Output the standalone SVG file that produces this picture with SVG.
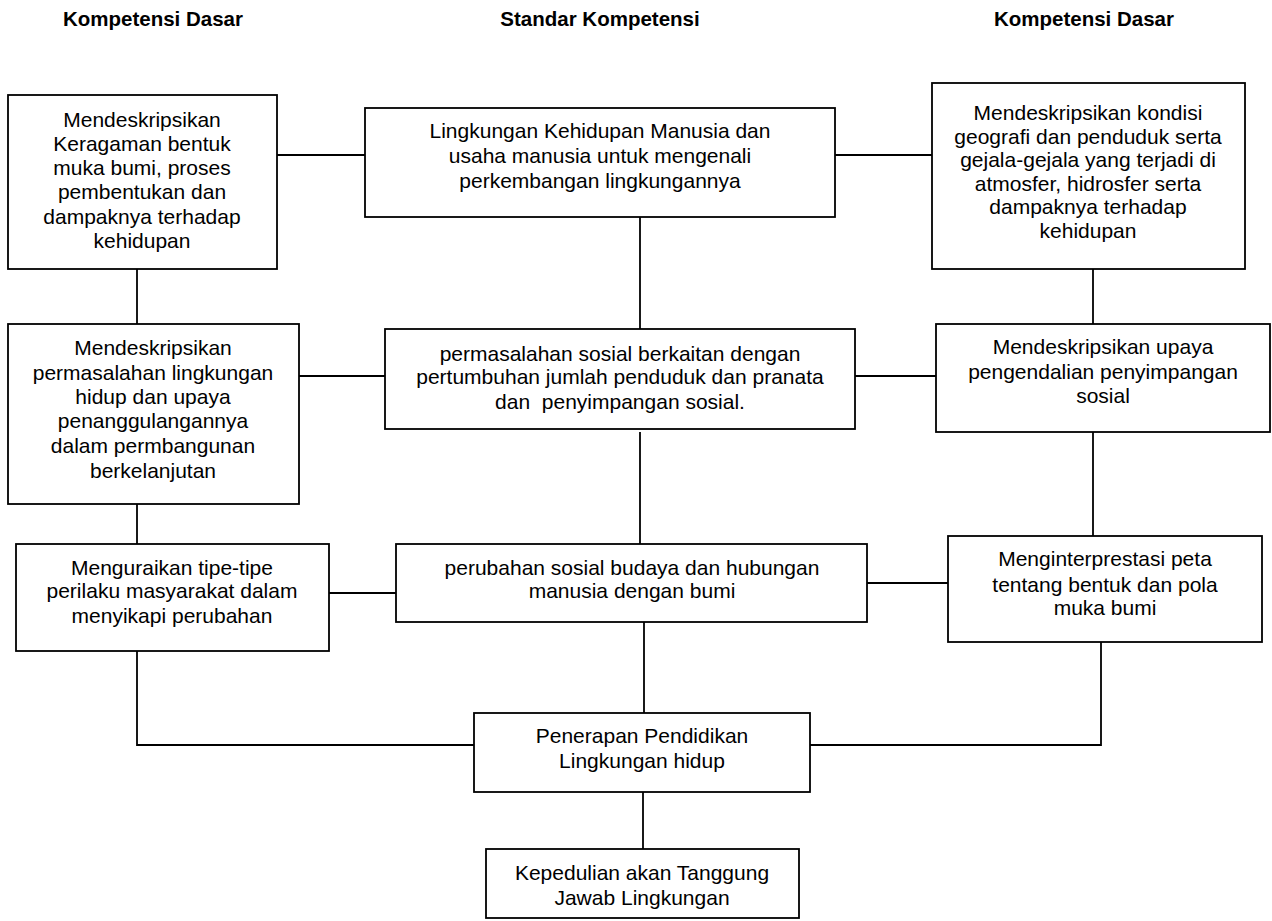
<svg xmlns="http://www.w3.org/2000/svg" width="1272" height="921" viewBox="0 0 1272 921">
<style>
.box{fill:#fff;stroke:#000;stroke-width:1.8}
.t{font-family:"Liberation Sans",Arial,sans-serif;font-size:21px;fill:#000;text-anchor:middle}
.h{font-family:"Liberation Sans",Arial,sans-serif;font-size:20.5px;font-weight:bold;fill:#000;text-anchor:middle}
.c{fill:none;stroke:#000;stroke-width:1.8}
</style>
<rect width="1272" height="921" fill="#fff"/>
<g id="headers">
<text class="h" x="153" y="26">Kompetensi Dasar</text>
<text class="h" x="600" y="26">Standar Kompetensi</text>
<text class="h" x="1084" y="26">Kompetensi Dasar</text>
</g>
<g id="connectors">
<path class="c" d="M277 155H365"/>
<path class="c" d="M835 155H932"/>
<path class="c" d="M137 269V324"/>
<path class="c" d="M640 217V329"/>
<path class="c" d="M1093 269V324"/>
<path class="c" d="M299 376H385"/>
<path class="c" d="M855 376H936"/>
<path class="c" d="M137 504V544"/>
<path class="c" d="M640 432V544"/>
<path class="c" d="M1093 432V536"/>
<path class="c" d="M329 593H396"/>
<path class="c" d="M867 583H948"/>
<path class="c" d="M137 651V745H474"/>
<path class="c" d="M644 622V713"/>
<path class="c" d="M1101 642V745H810"/>
<path class="c" d="M643 792V849"/>
</g>
<g id="n1">
<rect class="box" x="8" y="95" width="269" height="174"/>
<text class="t"><tspan x="142" y="127">Mendeskripsikan</tspan><tspan x="142" y="151">Keragaman bentuk</tspan><tspan x="142" y="175">muka bumi, proses</tspan><tspan x="142" y="199">pembentukan dan</tspan><tspan x="142" y="224">dampaknya terhadap</tspan><tspan x="142" y="248">kehidupan</tspan></text>
</g>
<g id="n2">
<rect class="box" x="365" y="108" width="470" height="109"/>
<text class="t"><tspan x="600" y="138">Lingkungan Kehidupan Manusia dan</tspan><tspan x="600" y="163">usaha manusia untuk mengenali</tspan><tspan x="600" y="188">perkembangan lingkungannya</tspan></text>
</g>
<g id="n3">
<rect class="box" x="932" y="83" width="313" height="186"/>
<text class="t"><tspan x="1088" y="120">Mendeskripsikan kondisi</tspan><tspan x="1088" y="144">geografi dan penduduk serta</tspan><tspan x="1088" y="167">gejala-gejala yang terjadi di</tspan><tspan x="1088" y="191">atmosfer, hidrosfer serta</tspan><tspan x="1088" y="214">dampaknya terhadap</tspan><tspan x="1088" y="238">kehidupan</tspan></text>
</g>
<g id="n4">
<rect class="box" x="8" y="324" width="291" height="180"/>
<text class="t"><tspan x="153" y="355">Mendeskripsikan</tspan><tspan x="153" y="380">permasalahan lingkungan</tspan><tspan x="153" y="404">hidup dan upaya</tspan><tspan x="153" y="428">penanggulangannya</tspan><tspan x="153" y="453">dalam permbangunan</tspan><tspan x="153" y="478">berkelanjutan</tspan></text>
</g>
<g id="n5">
<rect class="box" x="385" y="329" width="470" height="100"/>
<text class="t"><tspan x="620" y="361">permasalahan sosial berkaitan dengan</tspan><tspan x="620" y="384">pertumbuhan jumlah penduduk dan pranata</tspan><tspan x="620" y="409">dan&#160; penyimpangan sosial.</tspan></text>
</g>
<g id="n6">
<rect class="box" x="936" y="324" width="334" height="108"/>
<text class="t"><tspan x="1103" y="354">Mendeskripsikan upaya</tspan><tspan x="1103" y="379">pengendalian penyimpangan</tspan><tspan x="1103" y="403">sosial</tspan></text>
</g>
<g id="n7">
<rect class="box" x="948" y="536" width="314" height="106"/>
<text class="t"><tspan x="1105" y="566">Menginterprestasi peta</tspan><tspan x="1105" y="592">tentang bentuk dan pola</tspan><tspan x="1105" y="615">muka bumi</tspan></text>
</g>
<g id="n8">
<rect class="box" x="16" y="544" width="313" height="107"/>
<text class="t"><tspan x="172" y="575">Menguraikan tipe-tipe</tspan><tspan x="172" y="598">perilaku masyarakat dalam</tspan><tspan x="172" y="623">menyikapi perubahan</tspan></text>
</g>
<g id="n9">
<rect class="box" x="396" y="544" width="471" height="78"/>
<text class="t"><tspan x="632" y="575">perubahan sosial budaya dan hubungan</tspan><tspan x="632" y="598">manusia dengan bumi</tspan></text>
</g>
<g id="n10">
<rect class="box" x="474" y="713" width="336" height="79"/>
<text class="t"><tspan x="642" y="743">Penerapan Pendidikan</tspan><tspan x="642" y="768">Lingkungan hidup</tspan></text>
</g>
<g id="n11">
<rect class="box" x="486" y="849" width="313" height="69"/>
<text class="t"><tspan x="642" y="880">Kepedulian akan Tanggung</tspan><tspan x="642" y="905">Jawab Lingkungan</tspan></text>
</g>
</svg>
